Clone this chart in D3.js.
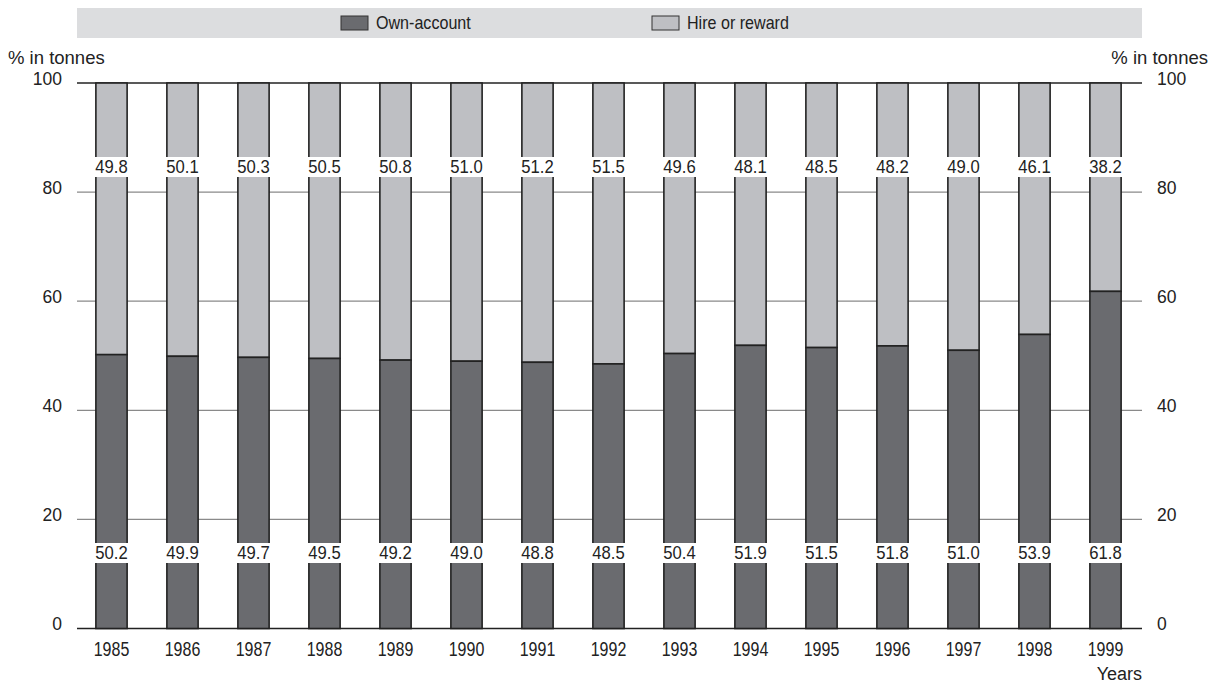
<!DOCTYPE html>
<html>
<head>
<meta charset="utf-8">
<script src="https://cdn.jsdelivr.net/npm/d3@7"></script>
<style>
  html, body { margin: 0; padding: 0; background: #fff; }
  svg { display: block; font-family: "Liberation Sans", Arial, sans-serif; }
</style>
</head>
<body>
<svg id="chart" width="1222" height="685"></svg>
<script>
// Share of goods transported (% in tonnes), by type of operation
const years = ["1985","1986","1987","1988","1989","1990","1991","1992","1993","1994","1995","1996","1997","1998","1999"];
const ownAccount = [50.2, 49.9, 49.7, 49.5, 49.2, 49.0, 48.8, 48.5, 50.4, 51.9, 51.5, 51.8, 51.0, 53.9, 61.8];
const hireOrReward = [49.8, 50.1, 50.3, 50.5, 50.8, 51.0, 51.2, 51.5, 49.6, 48.1, 48.5, 48.2, 49.0, 46.1, 38.2];
const yTicks = [0, 20, 40, 60, 80, 100];
const seriesNames = ["Own-account", "Hire or reward"];
const seriesColors = ["#6a6b6f", "#bebfc3"];

const svg = d3.select("#chart");
const plotLeft = 76, plotRight = 1141, plotTop = 83, plotBottom = 628.5;

const x = d3.scaleBand().domain(years).range([plotLeft, plotRight]).paddingInner(0.56).paddingOuter(0.28);
const y = d3.scaleLinear().domain([0, 100]).range([plotBottom, plotTop]);

// Text helper: optional horizontal squeeze for a condensed look
function label(parent, px, py, str, size, anchor = "start", sx = 1) {
  return parent.append("text")
    .attr("transform", `translate(${px},${py}) scale(${sx},1)`)
    .attr("font-size", size).attr("fill", "#222")
    .attr("text-anchor", anchor).text(str);
}

// Legend band
svg.append("rect").attr("x", plotLeft + 1).attr("y", 8).attr("width", plotRight - plotLeft).attr("height", 30).attr("fill", "#dcdddf");
const legendX = [341, 652];
seriesNames.forEach((name, i) => {
  svg.append("rect").attr("x", legendX[i]).attr("y", 16).attr("width", 27).attr("height", 14)
    .attr("fill", seriesColors[i]).attr("stroke", "#333").attr("stroke-width", 1);
  label(svg, legendX[i] + 35, 29, name, 17.5, "start", 0.92);
});

// Gridlines
svg.append("g").selectAll("line").data(yTicks).join("line")
  .attr("x1", plotLeft + 1).attr("x2", plotRight + 1)
  .attr("y1", d => y(d)).attr("y2", d => y(d))
  .attr("stroke", d => (d === 0 || d === 100) ? "#222" : "#8a8a8a")
  .attr("stroke-width", d => (d === 0 || d === 100) ? 1.6 : 1.2);

// Stacked bars
const g = svg.append("g");
years.forEach((yr, i) => {
  const bx = x(yr), bw = x.bandwidth();
  g.append("rect").attr("x", bx).attr("y", y(100)).attr("width", bw)
    .attr("height", y(ownAccount[i]) - y(100))
    .attr("fill", seriesColors[1]).attr("stroke", "#222").attr("stroke-width", 1.6);
  g.append("rect").attr("x", bx).attr("y", y(ownAccount[i])).attr("width", bw)
    .attr("height", y(0) - y(ownAccount[i]))
    .attr("fill", seriesColors[0]).attr("stroke", "#222").attr("stroke-width", 1.6);
});

// Value labels in white boxes
function valueLabel(cx, boxTop, val) {
  g.append("rect").attr("x", cx - 17).attr("y", boxTop).attr("width", 34).attr("height", 20).attr("fill", "#fff");
  label(g, cx, boxTop + 16, val.toFixed(1), 18.5, "middle", 0.9);
}
years.forEach((yr, i) => {
  const cx = x(yr) + x.bandwidth() / 2;
  valueLabel(cx, 157, hireOrReward[i]);
  valueLabel(cx, 543, ownAccount[i]);
});

// Axis labels
const axL = svg.append("g");
yTicks.forEach(d => {
  label(axL, 62, y(d) + 1.5, d, 17.5, "end");
  label(axL, 1157, y(d) + 1.5, d, 17.5, "start");
});
years.forEach(yr => {
  label(axL, x(yr) + x.bandwidth() / 2, 656, yr, 19.5, "middle", 0.82);
});
label(axL, 8, 63.5, "% in tonnes", 18.5);
label(axL, 1208, 63.5, "% in tonnes", 18.5, "end");
label(axL, 1142, 680, "Years", 18, "end");
</script>
</body>
</html>
